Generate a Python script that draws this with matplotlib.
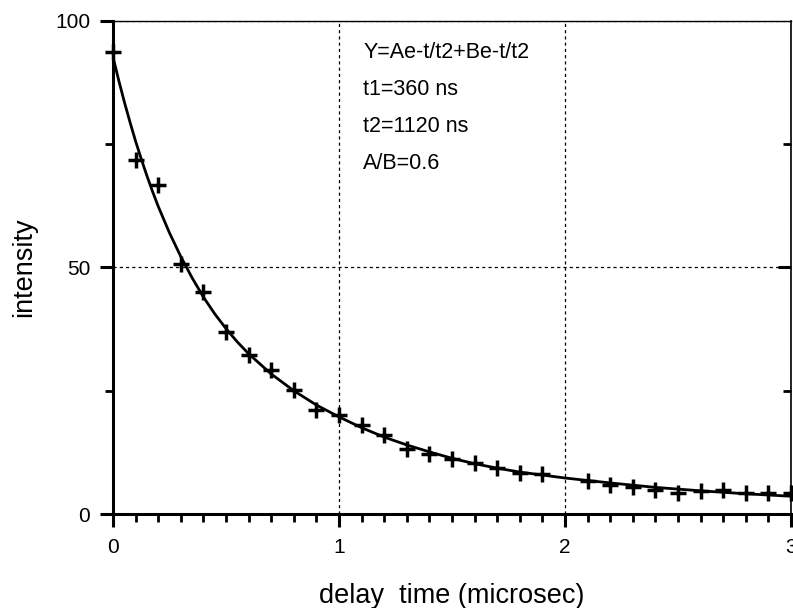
import matplotlib
matplotlib.use("Agg")
import matplotlib.pyplot as plt
from matplotlib.ticker import MultipleLocator, FixedLocator, NullFormatter

plt.rcParams["font.family"] = ["Liberation Sans", "DejaVu Sans"]
plt.rcParams["xtick.labelsize"] = 15
plt.rcParams["ytick.labelsize"] = 15

# measured intensities (crosses), delay in microsec
delay = [0.0, 0.1, 0.2, 0.3, 0.4, 0.5, 0.6, 0.7, 0.8, 0.9,
         1.0, 1.1, 1.2, 1.3, 1.4, 1.5, 1.6, 1.7, 1.8, 1.9,
         2.1, 2.2, 2.3, 2.4, 2.5, 2.6, 2.7, 2.8, 2.9, 3.0]
intensity = [93.6, 71.8, 66.8, 50.8, 45.0, 37.0, 32.2, 29.2, 25.2, 21.1,
             20.1, 18.1, 16.0, 13.2, 12.2, 11.1, 10.3, 9.3, 8.3, 8.1,
             6.6, 5.9, 5.4, 4.9, 4.3, 4.7, 4.9, 4.2, 4.3, 4.2]

# fitted curve
fit_t = [0.0, 0.025, 0.05, 0.075, 0.1, 0.125, 0.15, 0.175, 0.2, 0.25,
         0.3, 0.35, 0.4, 0.45, 0.5, 0.55, 0.6, 0.7, 0.8, 0.9,
         1.0, 1.1, 1.2, 1.3, 1.4, 1.5, 1.6, 1.7, 1.8, 1.9,
         2.0, 2.2, 2.4, 2.6, 2.8, 3.0]
fit_y = [92.7, 88.0, 83.6, 79.5, 75.6, 72.0, 68.6, 65.4, 62.4, 57.0,
         52.2, 47.9, 44.0, 40.6, 37.6, 34.9, 32.5, 28.4, 25.0, 22.1,
         19.7, 17.5, 15.6, 14.0, 12.6, 11.3, 10.2, 9.3, 8.5, 7.9,
         7.3, 6.3, 5.4, 4.7, 4.1, 3.6]

fit_text = ["Y=Ae-t/t2+Be-t/t2", "t1=360 ns", "t2=1120 ns", "A/B=0.6"]

fig = plt.figure(figsize=(7.93, 6.08), dpi=100)
ax = fig.add_axes([0.1425, 0.1546, 0.855, 0.811])

ax.plot(fit_t, fit_y, color="black", lw=2.0, zorder=3,
        solid_joinstyle="round")
ax.plot(delay, intensity, "+", color="black", markersize=11,
        markeredgewidth=2.5, clip_on=False, zorder=4)

ax.set_xlim(0, 3)
ax.set_ylim(0, 100)
ax.xaxis.set_major_locator(MultipleLocator(1))
ax.xaxis.set_minor_locator(MultipleLocator(0.1))
ax.yaxis.set_major_locator(MultipleLocator(50))
ax.yaxis.set_minor_locator(MultipleLocator(25))

ax.tick_params(which="major", direction="out", length=9.5, width=2.2,
               labelsize=15, pad=7, color="black")
ax.tick_params(which="minor", direction="out", length=5.5, width=2.0)
ax.tick_params(axis="x", which="major", pad=8)

for side in ("left", "bottom"):
    ax.spines[side].set_linewidth(2.2)
ax.spines["top"].set_linewidth(1.0)
ax.spines["right"].set_visible(False)

# right axis: inward ticks only
sec = ax.secondary_yaxis("right")
sec.yaxis.set_major_locator(FixedLocator([50]))
sec.yaxis.set_minor_locator(FixedLocator([25, 75]))
sec.yaxis.set_major_formatter(NullFormatter())
sec.tick_params(which="major", direction="in", length=9.5, width=2.2)
sec.tick_params(which="minor", direction="in", length=5.5, width=2.0)
sec.spines["right"].set_linewidth(1.2)

ax.grid(True, which="major", color="black", linestyle=(0, (2.5, 2.5)),
        linewidth=0.9)

ax.set_xlabel("delay  time (microsec)", fontsize=19.5)
ax.set_ylabel("intensity", fontsize=19.5)
ax.xaxis.set_label_coords(0.5, -0.14)
ax.yaxis.set_label_coords(-0.112, 0.5)

for i, line in enumerate(fit_text):
    ax.text(0.369, 0.935 - i * 0.0745, line, transform=ax.transAxes,
            fontsize=15.5, va="center", ha="left")

fig.savefig("out.png", dpi=100)
